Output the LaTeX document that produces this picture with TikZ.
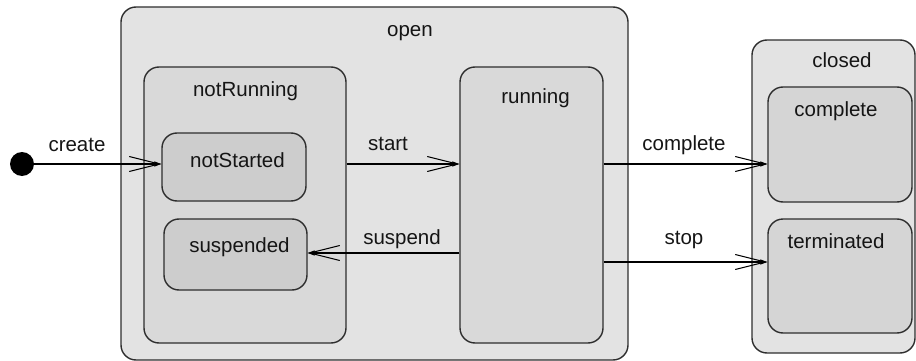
\documentclass[tikz,border=0pt]{standalone}
\usepackage{fontspec}
\setmainfont{Liberation Sans}
\usetikzlibrary{arrows.meta}
\definecolor{edge}{HTML}{2E2E2E}
\definecolor{outerfill}{HTML}{E3E3E3}
\definecolor{midfill}{HTML}{D9D9D9}
\definecolor{innerfill}{HTML}{CDCDCD}
\definecolor{leaffill}{HTML}{D5D5D5}
\definecolor{ink}{HTML}{151515}
\tikzset{
  statebox/.style={draw=edge, line width=1.4pt, rounded corners=15pt,
    inner sep=0pt, rectangle},
  outerstate/.style={statebox, fill=outerfill},
  midstate/.style={statebox, fill=midfill},
  innerstate/.style={statebox, fill=innerfill},
  leafstate/.style={statebox, fill=leaffill},
  lbl/.style={anchor=base, inner sep=0pt, text=ink,
    font=\fontsize{20.5}{24}\selectfont},
  conn/.style={draw=black, line width=1.2pt,
    -{Straight Barb[length=30pt,width=15pt,line width=1pt,sep=-7pt]Triangle[length=7pt,width=5pt]}},
}
\begin{document}
\begin{tikzpicture}[x=1pt,y=-1pt]
\useasboundingbox (0,0) rectangle (916,361);

% composite states
\node[outerstate, minimum width=507pt, minimum height=353pt] (open) at (374.5,183.5) {};
\node[outerstate, minimum width=163pt, minimum height=313pt] (closed) at (833.5,196.5) {};

% substates of open
\node[midstate, minimum width=202pt, minimum height=276pt] (notRunning) at (245,205) {};
\node[midstate, minimum width=143pt, minimum height=276pt] (running) at (531.5,205) {};
\node[innerstate, minimum width=144pt, minimum height=68pt] (notStarted) at (234,167) {};
\node[innerstate, minimum width=143pt, minimum height=71pt] (suspended) at (235.5,254.5) {};

% substates of closed
\node[leafstate, minimum width=144pt, minimum height=115pt] (complete) at (840,144.5) {};
\node[leafstate, minimum width=144pt, minimum height=114pt] (terminated) at (840,276) {};

% initial pseudostate
\node[circle, fill=black, minimum size=24pt, inner sep=0pt] (init) at (22,164) {};

% state names
\node[lbl] (openName) at (410,37) {open};
\node[lbl] (closedName) at (842,67) {closed};
\node[lbl] (notRunningName) at (245.5,96) {notRunning};
\node[lbl] (runningName) at (535.5,103) {running};
\node[lbl] (notStartedName) at (237.5,167) {notStarted};
\node[lbl] (suspendedName) at (239.5,252) {suspended};
\node[lbl] (completeName) at (836,117) {complete};
\node[lbl] (terminatedName) at (836,248) {terminated};

% transitions
\draw[conn] (init.center) -- (notStarted.west |- init);
\draw[conn] (notRunning.east |- init) -- (running.west |- init);
\draw[conn] ([yshift=1.5pt]running.west |- suspended) -- ([yshift=1.5pt]suspended.east);
\draw[conn] (running.east |- init) -- (complete.west |- init);
\draw[conn] ([yshift=14pt]running.east |- terminated.west) -- ([yshift=14pt]terminated.west);

% transition labels
\node[lbl] (createLbl) at (77,151) {create};
\node[lbl] (startLbl) at (388,150) {start};
\node[lbl] (suspendLbl) at (402,244) {suspend};
\node[lbl] (completeLbl) at (684,150) {complete};
\node[lbl] (stopLbl) at (684,244) {stop};
\end{tikzpicture}
\end{document}
